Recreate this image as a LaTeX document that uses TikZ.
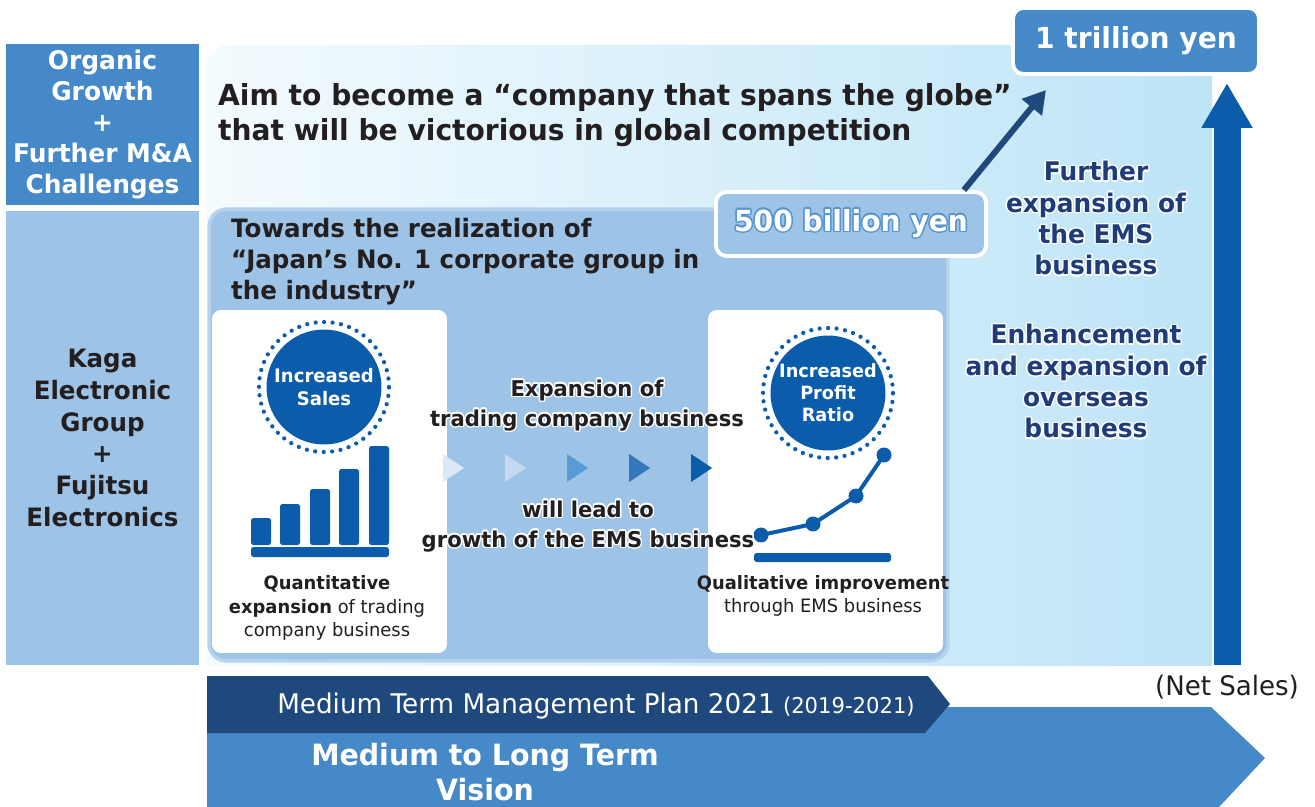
\documentclass[tikz,border=0pt]{standalone}
\usepackage{fontspec}
\setmainfont{DejaVu Sans}[FakeStretch=0.97]
\usepackage{tikz}
\usepackage[copies]{contour}
\usetikzlibrary{arrows.meta, positioning}

\definecolor{vision}{HTML}{4589C8}
\definecolor{plan}{HTML}{1F497D}
\definecolor{pale}{HTML}{9DC3E6}
\definecolor{paleedge}{HTML}{B5D2EE}
\definecolor{deep}{HTML}{0B5CAB}
\definecolor{navytext}{HTML}{1F3C78}
\definecolor{ink}{HTML}{231F20}
\definecolor{skyA}{HTML}{F4FBFE}
\definecolor{skyB}{HTML}{BDE4F7}
\definecolor{chevA}{HTML}{DCE9F5}
\definecolor{chevB}{HTML}{C4D9EF}
\definecolor{chevC}{HTML}{5B9BD5}
\definecolor{chevD}{HTML}{3577BD}

\newcommand{\setfs}[2]{\fontsize{#1}{#2}\selectfont}
% soft rim behind text lines
\contourlength{0.8pt}
\newcommand{\halo}[1]{\contour{white!85!skyA}{#1}}
\newcommand{\dimhalo}[1]{\contour{vision!80!pale}{#1}}

\tikzset{%
    % labels in the left column
    side/.style   = {rectangle, inner sep=0pt, minimum width=3.86cm,
    align=center, font=\bfseries\setfs{14.6}{17.6}},
    % value tags with a white rim
    tag/.style    = {rectangle, rounded corners=6pt, draw=white,
    line width=2.2pt, inner sep=0pt, text=white,
    font=\bfseries\setfs{16.5}{19}},
    % white cards and round badges
    card/.style   = {rectangle, rounded corners=5pt, fill=white,
    inner sep=0pt, minimum width=4.7cm, minimum height=6.86cm},
    badge/.style  = {circle, fill=deep, inner sep=0pt, minimum size=2.3cm,
    align=center, text=white, font=\bfseries\setfs{10.6}{12.8}},
    dots/.style   = {draw=deep, line width=0.085cm, line cap=round,
    dash pattern=on 0pt off 0.17cm},
    % text blocks
    goal/.style   = {align=center, text=navytext, font=\bfseries\setfs{14.6}{17.8}},
    flow/.style   = {align=center, text=ink, font=\bfseries\setfs{12.4}{17}},
    caption/.style= {align=center, text=ink, font=\setfs{10.5}{13.3}}
}

\begin{document}
\begin{tikzpicture}[x=0.02cm, y=-0.02cm]

	\useasboundingbox[fill=white] (0,0) rectangle (1315,807);

	% background of the vision area
	\begin{scope}
	\clip[rounded corners=12pt] (207,45) rectangle (1260,700);
	\shade[left color=skyA, right color=skyB] (207,45) rectangle (1212,665);
	\end{scope}

	% left column
	\node[side, fill=vision, text=white, minimum height=3.22cm] (organic) at (102.5,124.5)
		{Organic\\Growth\\+\\Further M\&A\\Challenges};
	\node[side, fill=pale, text=ink, minimum height=9.08cm, font=\bfseries\setfs{14.4}{18}] (kaga) at (102.5,438)
		{Kaga\\Electronic\\Group\\+\\Fujitsu\\Electronics};

	% headline
	\node[anchor=west, align=left, text=ink, font=\bfseries\setfs{16.5}{20}] (aim) at (212,115)
		{Aim to become a “company that spans the globe”\\that will be victorious in global competition};

	% panel for the group target
	\node[rectangle, rounded corners=10pt, fill=pale, draw=paleedge, line width=2pt,
		minimum width=14.78cm, minimum height=9.04cm] (realize) at (578.5,435) {};
	\node[anchor=west, align=left, text=ink, font=\bfseries\setfs{14.4}{17.6}] (towards) at (225,262)
		{Towards the realization of\\“Japan’s No. 1 corporate group in\\the industry”};

	% sales card
	\node[card] (salescard) at (329.5,481.5) {};
	\node[badge] (salesbadge) at (324,387) {Increased\\Sales};
	\draw[dots] (salesbadge) circle (1.3cm);
	\foreach \bx/\by in {251/518, 280/504, 310/489, 339/469, 369/446}
		\fill[deep, rounded corners=1pt] (\bx,\by) rectangle (\bx+20,545);
	\fill[deep, rounded corners=1.5pt] (251,547) rectangle (389,557);
	\node[caption] (quant) at (327,608)
		{\textbf{Quantitative}\\\textbf{expansion} of trading\\company business};

	% profit card
	\node[card] (profitcard) at (825.5,481.5) {};
	\node[badge, font=\bfseries\setfs{10.4}{12.5}] (profitbadge) at (828,393) {Increased\\Profit\\Ratio};
	\draw[dots] (profitbadge) circle (1.3cm);
	\fill[deep, rounded corners=1.5pt] (754,553) rectangle (891,562);
	\draw[deep, line width=0.08cm] (761,535) -- (813,524) -- (856,496) -- (884,455);
	\foreach \px/\py in {761/535, 813/524, 856/496, 884/455}
		\fill[deep] (\px,\py) circle (0.15cm);
	\node[caption] (qual) at (823,596)
		{\textbf{Qualitative improvement}\\through EMS business};

	% chevrons between the cards
	\foreach \cx/\cc in {443/chevA, 505/chevB, 567/chevC, 629/chevD, 691/deep}
		\fill[\cc] (\cx,454) -- (\cx+21,468) -- (\cx,482) -- cycle;
	\node[flow] (expand) at (587,406) {\halo{Expansion of}\\\halo{trading company business}};
	\node[flow] (lead) at (588,527) {\halo{will lead to}\\\halo{growth of the EMS business}};

	% targets
	\node[tag, fill=vision, minimum width=4.92cm, minimum height=1.32cm] (tril) at (1136,41) {1 trillion yen};
	\node[tag, fill=pale, minimum width=5.4cm, minimum height=1.28cm] (bil) at (851,224) {\dimhalo{500 billion yen}};
	\coordinate (globe) at (1046,90);
	\draw[plan, line width=0.12cm, -{Triangle[width=0.5cm, length=0.45cm]}]
		([xshift=-0.48cm]bil.north east) -- (globe);

	\node[goal] (further) at (1096,219)
		{\halo{Further}\\\halo{expansion of}\\\halo{the EMS}\\\halo{business}};
	\node[goal] (enhance) at (1086,382)
		{\halo{Enhancement}\\\halo{and expansion of}\\\halo{overseas}\\\halo{business}};

	% net sales arrow
	\coordinate (salesfoot) at (1227,665);
	\coordinate (salestop) at (1227,83);
	\draw[deep, line width=0.54cm, -{Triangle[width=0.96cm, length=0.9cm]}] (salesfoot) -- (salestop);
	\node[font=\setfs{15.3}{18}, text=ink] (netsales) at (1227,687) {(Net Sales)};

	% time frame banners
	\fill[vision] (207,707) -- (1211,707) -- (1265,758) -- (1219,807) -- (207,807) -- cycle;
	\fill[plan] (207,676) -- (928,676) -- (950,704) -- (925,733) -- (207,733) -- cycle;
	\node[text=white, font=\setfs{15.4}{18}] (mtp) at (596,706)
		{Medium Term Management Plan 2021 {\setfs{12.4}{14}(2019-2021)}};
	\node[align=center, text=white, font=\bfseries\setfs{16.7}{19.5}] (longterm) at (485,772)
		{Medium to Long Term\\Vision};

\end{tikzpicture}
\end{document}
